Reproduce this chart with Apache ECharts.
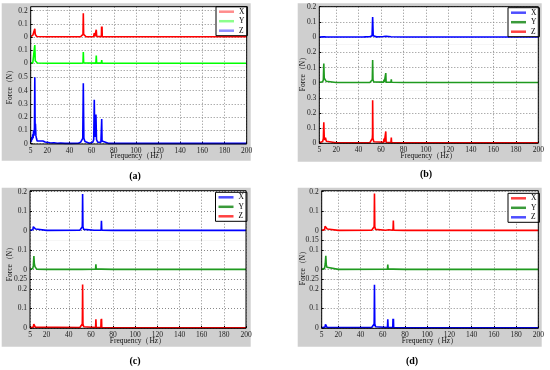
<!DOCTYPE html>
<html><head><meta charset="utf-8">
<script src="https://cdn.jsdelivr.net/npm/echarts@6/dist/echarts.min.js"></script>
<style>html,body{margin:0;padding:0;background:#fff}#c{width:550px;height:370px}</style>
</head><body><div id="c"></div>
<script>
// ---- tick labels ----
const freqTicks = [5,20,40,60,80,100,120,140,160,180,200];
const aXTicks = [0,0.1,0.2], aYTicks = [0,0.1,0.15], aZTicks = [0,0.1,0.2,0.3,0.4,0.5,0.55];
const bXTicks = [0,0.1,0.2], bYTicks = [0,0.1,0.2], bZTicks = [0,0.1,0.2,0.3];
const cXTicks = [0,0.1,0.2], cYTicks = [0,0.1], cZTicks = [0,0.1,0.2,0.25];
const dXTicks = [0,0.1,0.2], dYTicks = [0,0.1,0.15], dZTicks = [0,0.1,0.2,0.25];
const componentNames = ['X','Y','Z'];
const captions = ['(a)','(b)','(c)','(d)'];
const xTitle = 'Frequency（Hz）';
const yTitle = 'Force（N）';

// ---- spectra [frequency Hz, force N] ----
const aX = [[5,0.003],[6,0.008],[7,0.015],[7.8,0.03],[8.3,0.02],[8.7,0.063],[9.1,0.02],[9.6,0.01],[10.5,0.004],[12,0.002],[20,0.002],[35,0.002],[50,0.002],[51.5,0.005],[52.2,0.02],[52.5,0.18],[52.8,0.02],[53.5,0.005],[55,0.002],[61.8,0.003],[62.4,0.03],[62.8,0.004],[63.7,0.005],[64.2,0.055],[64.6,0.004],[68.8,0.003],[69.0,0.08],[69.2,0.004],[69.4,0.08],[69.6,0.003],[75,0.002],[100,0.002],[150,0.002],[200,0.002]];
const aY = [[5,0.003],[5.6,0.012],[6,0.004],[6.4,0.018],[6.9,0.006],[7.6,0.02],[8.2,0.01],[8.7,0.14],[9.1,0.02],[9.6,0.03],[10.2,0.01],[11,0.003],[20,0.001],[50,0.001],[52.2,0.003],[52.5,0.087],[52.8,0.003],[63.9,0.002],[64.2,0.06],[64.5,0.002],[68.8,0.002],[69.1,0.026],[69.4,0.002],[100,0.001],[200,0.001]];
const aZ = [[5,0.01],[5.3,0.04],[5.6,0.015],[6,0.05],[6.4,0.03],[6.8,0.07],[7.2,0.04],[7.6,0.1],[8,0.06],[8.4,0.12],[8.7,0.5],[9,0.1],[9.3,0.15],[9.7,0.06],[10.2,0.04],[10.8,0.02],[11.5,0.03],[12.5,0.015],[14,0.02],[16,0.02],[18,0.012],[19,0.005],[21,0.008],[23,0.004],[26,0.007],[29,0.003],[32,0.005],[36,0.002],[42,0.002],[48,0.003],[50,0.01],[51.2,0.02],[52,0.04],[52.5,0.455],[53,0.04],[54,0.015],[55,0.005],[58,0.003],[61,0.01],[61.9,0.03],[62.4,0.33],[62.9,0.05],[63.4,0.04],[63.9,0.22],[64.4,0.03],[65.5,0.01],[67,0.005],[68.4,0.01],[68.8,0.02],[69.1,0.185],[69.4,0.02],[70.5,0.005],[75,0.002],[100,0.002],[150,0.002],[200,0.002]];

const bX = [[5,0.001],[8.5,0.003],[9.2,0.016],[9.6,0.004],[10.5,0.002],[20,0.001],[44,0.001],[45,0.004],[46,0.002],[47,0.005],[48,0.003],[49,0.005],[50,0.003],[51,0.006],[52,0.01],[52.5,0.133],[53,0.01],[54,0.003],[56,0.002],[62,0.004],[64.5,0.006],[66,0.002],[68.8,0.003],[69.2,0.015],[69.6,0.003],[80,0.001],[200,0.001]];
const bY = [[5,0.002],[8,0.006],[8.6,0.02],[9,0.127],[9.4,0.03],[9.9,0.02],[10.4,0.03],[11,0.01],[12,0.003],[20,0.001],[50,0.002],[51.5,0.006],[52.2,0.02],[52.5,0.149],[52.8,0.02],[53.5,0.005],[55,0.002],[62.3,0.004],[62.6,0.02],[62.9,0.004],[63.9,0.004],[64.2,0.064],[64.5,0.004],[68.8,0.003],[69.1,0.022],[69.4,0.003],[80,0.001],[200,0.001]];
const bZ = [[5,0.002],[8,0.01],[8.6,0.03],[9,0.137],[9.4,0.04],[10,0.02],[10.5,0.035],[11.2,0.012],[12,0.004],[20,0.002],[50,0.002],[51.5,0.008],[52.2,0.03],[52.4,0.06],[52.5,0.284],[52.8,0.03],[53.5,0.008],[55,0.002],[62.3,0.005],[62.6,0.03],[62.9,0.005],[63.9,0.005],[64.2,0.077],[64.5,0.005],[68.8,0.003],[69.1,0.037],[69.4,0.003],[80,0.002],[200,0.002]];

const cX = [[5,0.002],[7.6,0.004],[8,0.02],[8.3,0.012],[8.6,0.03],[9,0.012],[9.4,0.02],[10,0.008],[11,0.003],[20,0.001],[50,0.002],[51.5,0.006],[52.2,0.02],[52.3,0.05],[52.5,0.188],[52.8,0.02],[53.5,0.006],[55,0.002],[63,0.002],[63.5,0.006],[64,0.002],[64.8,0.006],[65.3,0.002],[69.2,0.002],[69.5,0.051],[69.8,0.002],[80,0.001],[200,0.001]];
const cY = [[5,0.002],[7.5,0.005],[8,0.02],[8.5,0.069],[8.9,0.03],[9.5,0.015],[10.2,0.006],[11,0.002],[20,0.001],[52,0.001],[52.5,0.004],[53,0.001],[64.2,0.002],[64.5,0.027],[64.8,0.002],[69.2,0.002],[69.5,0.01],[69.8,0.002],[80,0.001],[200,0.001]];
const cZ = [[5,0.001],[8,0.004],[8.4,0.02],[8.7,0.028],[9.1,0.012],[9.8,0.004],[11,0.001],[50,0.002],[51.5,0.006],[52.2,0.02],[52.3,0.06],[52.5,0.223],[52.8,0.02],[53.5,0.006],[55,0.002],[64.2,0.002],[64.5,0.044],[64.8,0.002],[69,0.002],[69.2,0.045],[69.4,0.01],[69.6,0.047],[69.8,0.002],[80,0.001],[200,0.001]];

const dX = [[5,0.002],[7.6,0.005],[8,0.022],[8.3,0.012],[8.6,0.03],[9,0.014],[9.4,0.02],[10,0.008],[11,0.003],[20,0.001],[50,0.002],[51.5,0.006],[52.2,0.02],[52.3,0.05],[52.5,0.19],[52.8,0.02],[53.5,0.006],[55,0.002],[62.5,0.002],[63,0.005],[64,0.005],[65.5,0.004],[66,0.002],[69.2,0.002],[69.5,0.052],[69.8,0.002],[80,0.001],[200,0.001]];
const dY = [[5,0.002],[7.6,0.006],[8.2,0.03],[8.7,0.07],[9.1,0.025],[9.7,0.012],[10.4,0.005],[11,0.002],[20,0.001],[64.2,0.002],[64.5,0.025],[64.8,0.002],[69.2,0.002],[69.5,0.01],[69.8,0.002],[80,0.001],[200,0.001]];
const dZ = [[5,0.001],[8,0.004],[8.4,0.018],[8.7,0.028],[9.1,0.01],[9.8,0.003],[11,0.001],[50,0.002],[51.5,0.006],[52.2,0.02],[52.3,0.06],[52.5,0.222],[52.8,0.02],[53.5,0.006],[55,0.002],[64.2,0.002],[64.5,0.045],[64.8,0.002],[69,0.002],[69.2,0.047],[69.4,0.01],[69.6,0.047],[69.8,0.002],[80,0.001],[200,0.001]];

const panelData = [[aX,aY,aZ],[bX,bY,bZ],[cX,cY,cZ],[dX,dY,dZ]];
const panelTicks = [[aXTicks,aYTicks,aZTicks],[bXTicks,bYTicks,bZTicks],[cXTicks,cYTicks,cZTicks],[dXTicks,dYTicks,dZTicks]];

// ---- layout / style ----
const GREEN = '#1f9a1f';
const layout = [
  {left:30.7, right:246.7, bounds:[6.7,39.7,66.7,144], ranges:[[-0.02,0.23],[-0.025,0.18],[-0.003,0.58]],
   bg:[1.7,3.3,249,157.4], xname:[138.7,155.7], yname:[10,85], cap:[135,176], legend:[216,6.7],
   colors:['#ff0000','#00ff00','#0000ff'], legendColors:['#ff8c8c','#8cff8c','#8c8cff']},
  {left:319.3, right:538.3, bounds:[6.7,44.8,90.3,143.3], ranges:[[-0.05,0.2],[-0.05,0.25],[-0.002,0.35]],
   bg:[297.7,3.3,244,158.4], xname:[428.8,155.7], yname:[303,72], cap:[426,174], legend:[508,7.7],
   colors:['#0000ff',GREEN,'#ff0000'], legendColors:['#4d4dff','#3a9a3a','#ff4040']},
  {left:30, right:246, bounds:[190.7,240.3,279.3,328.3], ranges:[[-0.05,0.205],[-0.05,0.15],[-0.002,0.25]],
   bg:[1.7,187.7,249,159], xname:[138,340.7], yname:[10,262], cap:[135,361], legend:[215.5,192.3],
   colors:['#0000ff',GREEN,'#ff0000'], legendColors:['#4d4dff','#3a9a3a','#ff4040']},
  {left:321.7, right:538.3, bounds:[190.7,240.3,279.3,328.3], ranges:[[-0.05,0.205],[-0.05,0.15],[-0.002,0.25]],
   bg:[297.7,187.7,244,159], xname:[430,340.7], yname:[303,266], cap:[412,361], legend:[508,193.3],
   colors:['#ff0000',GREEN,'#0000ff'], legendColors:['#ff4040','#3a9a3a','#4d4dff']}
];
const FONT = '"Liberation Serif","DejaVu Serif",serif';
const gridLine = {show:true, lineStyle:{color:'#8a8a8a', width:1, type:[1,2]}};

const grids = [], xAxes = [], yAxes = [], series = [], legends = [], graphics = [];
layout.forEach((L, p) => {
  const tag = 'abcd'[p];
  graphics.push({type:'rect', z:-10, shape:{x:L.bg[0], y:L.bg[1], width:L.bg[2], height:L.bg[3]}, style:{fill:'#cfcfcf'}});
  graphics.push({type:'rect', z:100, shape:{x:L.left, y:L.bounds[0], width:L.right-L.left, height:L.bounds[3]-L.bounds[0]}, style:{fill:'none', stroke:'#000', lineWidth:1}});
  for (let s = 0; s < 3; s++) {
    const gi = grids.length;
    grids.push({left:L.left, top:L.bounds[s], width:L.right-L.left, height:L.bounds[s+1]-L.bounds[s],
      show:true, backgroundColor:'#fff', borderWidth:0});
    const bottom = s === 2;
    xAxes.push({gridIndex:gi, type:'value', min:5, max:200,
      axisLine:{show:false},
      axisTick:{show:bottom, inside:true, length:2, customValues:freqTicks, lineStyle:{color:'#000'}},
      axisLabel:{show:bottom, customValues:freqTicks, fontSize:7.5, margin:3, color:'#222', fontFamily:FONT},
      splitLine:gridLine});
    yAxes.push({gridIndex:gi, type:'value', min:L.ranges[s][0], max:L.ranges[s][1],
      axisLine:{show:false},
      axisTick:{show:true, inside:true, length:2, customValues:panelTicks[p][s], lineStyle:{color:'#000'}},
      axisLabel:{customValues:panelTicks[p][s], fontSize:7.5, margin:3, color:'#222', fontFamily:FONT},
      splitLine:gridLine});
    series.push({type:'line', name:tag+componentNames[s], xAxisIndex:gi, yAxisIndex:gi,
      data:panelData[p][s], symbol:'none', showSymbol:false, clip:true,
      lineStyle:{color:L.colors[s], width:1.6}, itemStyle:{color:L.colors[s]}, animation:false});
  }
  legends.push({left:L.legend[0], top:L.legend[1], orient:'vertical', icon:'rect',
    itemWidth:15, itemHeight:2.5, itemGap:1.5, itemTextGap:3, padding:[1,3,1,3],
    backgroundColor:'#fff', borderColor:'#000', borderWidth:1, selectedMode:false,
    textStyle:{fontSize:7.5, fontFamily:FONT, color:'#000'},
    formatter:n => n.slice(1),
    data:componentNames.map((c,i) => ({name:tag+c, itemStyle:{color:L.legendColors[i]}}))});
  graphics.push({type:'text', x:L.xname[0], y:L.xname[1], z:50,
    style:{text:xTitle, font:'7.5px '+FONT, fill:'#111', align:'center', verticalAlign:'middle', textAlign:'center', textVerticalAlign:'middle'}});
  graphics.push({type:'text', x:L.yname[0], y:L.yname[1], z:50, rotation:Math.PI/2,
    style:{text:yTitle, font:'7.5px '+FONT, fill:'#111', align:'center', verticalAlign:'middle', textAlign:'center', textVerticalAlign:'middle'}});
  graphics.push({type:'text', x:L.cap[0], y:L.cap[1], z:50,
    style:{text:captions[p], font:'bold 10px '+FONT, fill:'#000', align:'center', verticalAlign:'middle', textAlign:'center', textVerticalAlign:'middle'}});
});

const chart = echarts.init(document.getElementById('c'), null, {renderer:'canvas'});
chart.setOption({
  animation:false, backgroundColor:'#fff',
  grid:grids, xAxis:xAxes, yAxis:yAxes, series:series, legend:legends,
  graphic:{elements:graphics}
});
</script></body></html>
